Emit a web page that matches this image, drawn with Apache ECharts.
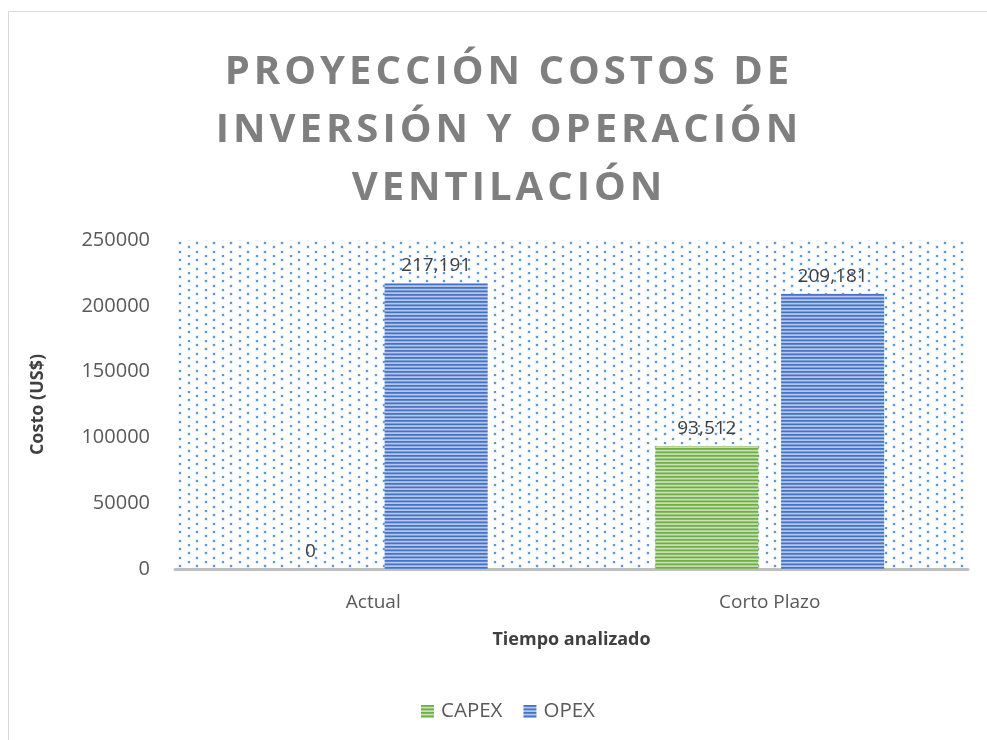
<!DOCTYPE html>
<html>
<head>
<meta charset="utf-8">
<script src="https://cdn.jsdelivr.net/npm/echarts@6/dist/echarts.min.js"></script>
<style>
html,body{margin:0;padding:0;background:#fff;}
#main{width:987px;height:740px;}
</style>
</head>
<body>
<div id="main"></div>
<script>
const titleLines = ['PROYECCIÓN COSTOS DE', 'INVERSIÓN Y OPERACIÓN', 'VENTILACIÓN'];
const categories = ['Actual', 'Corto Plazo'];
const seriesNames = ['CAPEX', 'OPEX'];
const capexValues = [0, 93512];
const opexValues = [217191, 209181];
const yTicks = { min: 0, max: 250000, interval: 50000 };
const xAxisTitle = 'Tiempo analizado';
const yAxisTitle = 'Costo (US$)';

// spaced title text (letter spacing via hair spaces)
const spacedTitle = titleLines.map(l => Array.from(l).join('\u200A')).join('\n');

function stripes(dark, light) {
  const c = document.createElement('canvas');
  c.width = 8; c.height = 7;
  const g = c.getContext('2d');
  g.fillStyle = light; g.fillRect(0, 0, 8, 7);
  g.fillStyle = dark;
  g.fillRect(0, 0, 8, 1.75);
  g.fillRect(0, 3.5, 8, 1.75);
  return { image: c, repeat: 'repeat' };
}
function dots() {
  const c = document.createElement('canvas');
  c.width = 17; c.height = 17;
  const g = c.getContext('2d');
  g.fillStyle = 'rgba(91,155,213,0.35)';
  const pts = [[1,0],[9,4],[1,8],[9,13]];
  pts.forEach(p => g.fillRect(p[0]-0.5, p[1]-0.5, 3, 3));
  g.fillStyle = '#5b9bd5';
  pts.forEach(p => g.fillRect(p[0], p[1], 2, 2));
  return { image: c, repeat: 'repeat' };
}

const chart = echarts.init(document.getElementById('main'), null, { renderer: 'canvas' });
const fmt = v => v.toLocaleString('en-US');
const labelStyle = {
  show: true, position: 'top', distance: 8,
  fontFamily: 'Open Sans', fontSize: 19, color: '#404040',
  formatter: p => fmt(p.value)
};
chart.setOption({
  backgroundColor: '#fff',
  animation: false,
  title: {
    text: spacedTitle,
    left: 502, top: 39, textAlign: 'center',
    textStyle: { fontFamily: 'Open Sans', fontWeight: 'bold', fontSize: 40, color: '#7f7f7f', lineHeight: 58 }
  },
  graphic: [{
    type: 'rect', shape: { x: 8.5, y: 11.5, width: 1200, height: 1000 },
    style: { fill: 'none', stroke: '#d9d9d9', lineWidth: 1 }, silent: true, z: -1
  }],
  legend: {
    data: seriesNames, left: 416, top: 696,
    itemWidth: 13, itemHeight: 13, itemGap: 21, icon: 'rect',
    textStyle: { fontFamily: 'Open Sans', fontSize: 20.5, color: '#595959', padding: [0, 0, 0, 2] }
  },
  grid: {
    left: 175, right: 19, top: 240, bottom: 171,
    show: true, borderWidth: 0, backgroundColor: dots()
  },
  xAxis: {
    type: 'category', data: categories,
    name: xAxisTitle, nameLocation: 'middle', nameGap: 62,
    nameTextStyle: { fontFamily: 'Open Sans', fontWeight: 'bold', fontSize: 18, color: '#404040' },
    axisLine: { lineStyle: { color: '#bfbfbf', width: 3 } },
    axisTick: { show: false },
    axisLabel: { fontFamily: 'Open Sans', fontSize: 19, color: '#595959', margin: 24 }
  },
  yAxis: {
    type: 'value', min: yTicks.min, max: yTicks.max, interval: yTicks.interval,
    name: yAxisTitle, nameLocation: 'middle', nameGap: 128, nameRotate: 90,
    nameTextStyle: { fontFamily: 'Open Sans', fontWeight: 'bold', fontSize: 18, color: '#404040' },
    axisLine: { show: false }, axisTick: { show: false },
    splitLine: { show: false },
    axisLabel: { fontFamily: 'Open Sans', fontSize: 20, color: '#595959', margin: 25, formatter: v => String(v) }
  },
  series: [
    {
      name: seriesNames[0], type: 'bar', data: capexValues,
      barWidth: '26%', barGap: '22%',
      itemStyle: { color: stripes('#70ad47', '#c5e0b4') },
      label: labelStyle
    },
    {
      name: seriesNames[1], type: 'bar', data: opexValues,
      barWidth: '26%', barGap: '22%',
      itemStyle: { color: stripes('#4472c4', '#b4c7e7') },
      label: labelStyle
    }
  ]
});
</script>
</body>
</html>
